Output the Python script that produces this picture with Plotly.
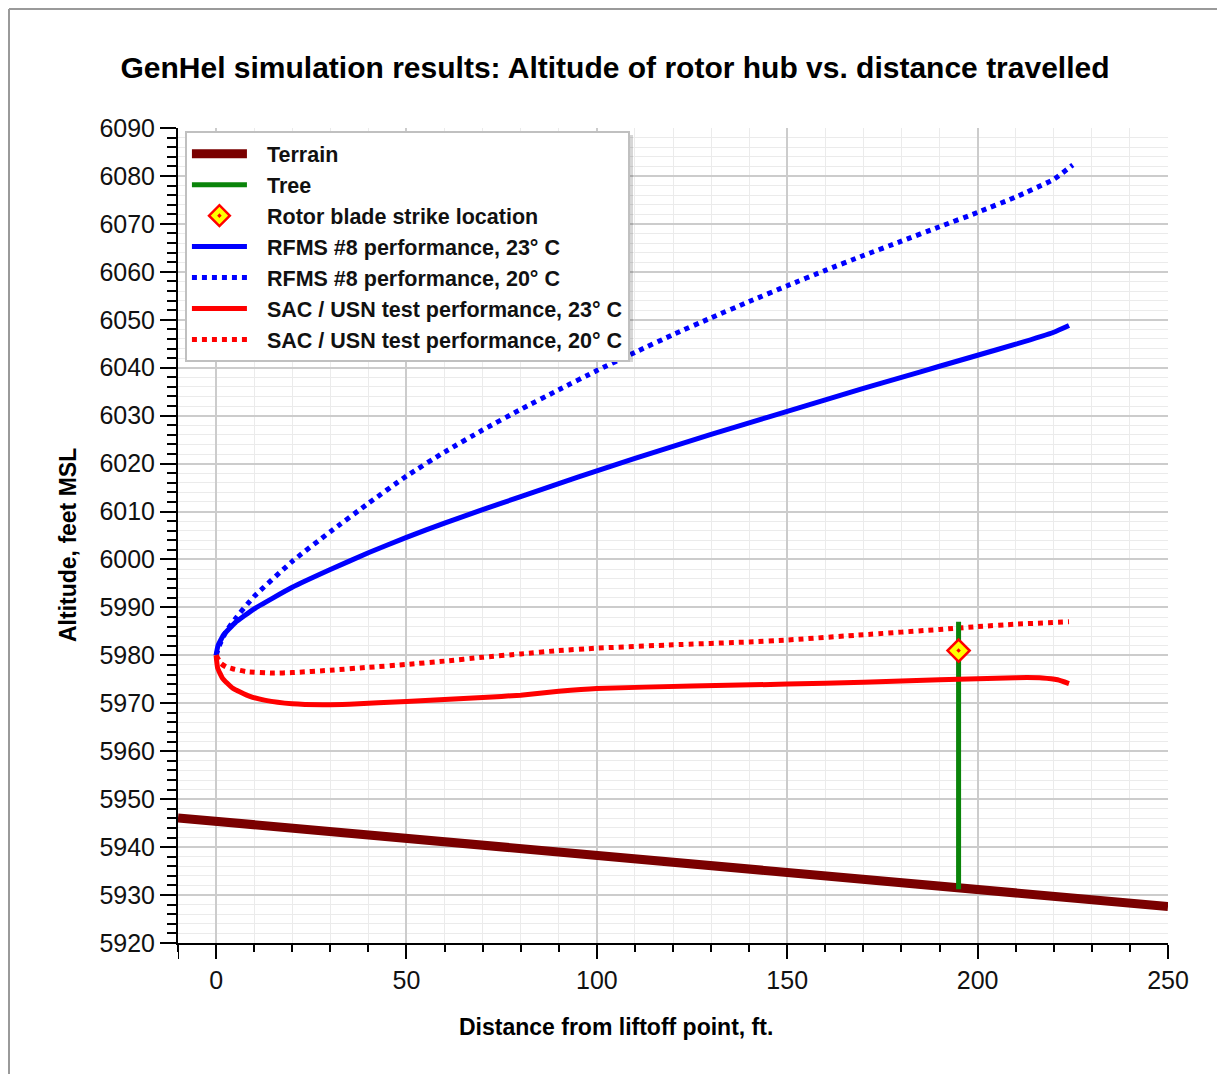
import plotly.graph_objects as go

# ---------------- data ----------------
terrain_x = [-10, 250]
terrain_y = [5946.1, 5927.6]

tree_x = [195, 195]
tree_y = [5931.2, 5987.0]

strike_x = [195]
strike_y = [5981.0]

rfms23_x = [0, 0.5, 2, 5, 10, 20, 30, 40, 50, 60, 70, 80, 90, 100, 110, 120,
            130, 140, 150, 160, 170, 180, 190, 200, 210, 220, 224]
rfms23_y = [5980, 5982, 5984.3, 5986.8, 5989.7, 5994.2, 5997.9, 6001.4, 6004.6,
            6007.6, 6010.4, 6013.1, 6015.8, 6018.5, 6021.1, 6023.6, 6026.1,
            6028.5, 6030.9, 6033.3, 6035.7, 6038.0, 6040.3, 6042.6, 6044.9,
            6047.4, 6048.8]

rfms20_x = [0, 1, 2.5, 5, 10, 20, 30, 40, 50, 60, 70, 80, 90, 100, 110, 120,
            130, 140, 150, 160, 170, 180, 190, 200, 210, 220, 225]
rfms20_y = [5980, 5982.3, 5984.8, 5987.6, 5992.3, 5999.6, 6005.8, 6011.7, 6017.4,
            6022.4, 6027.0, 6031.3, 6035.4, 6039.4, 6043.2, 6046.9, 6050.4,
            6053.8, 6057.1, 6060.3, 6063.4, 6066.4, 6069.4, 6072.4, 6075.6,
            6079.3, 6082.3]

sac23_x = [0, 0.4, 1.7, 4.3, 8.7, 13, 20, 28, 35, 50, 70, 80, 90, 100, 125,
           150, 170, 190, 200, 210, 217, 221, 224]
sac23_y = [5980, 5977.4, 5975.2, 5973.2, 5971.5, 5970.6, 5969.9, 5969.7, 5969.8,
           5970.4, 5971.2, 5971.7, 5972.5, 5973.1, 5973.6, 5974.0, 5974.4,
           5974.9, 5975.1, 5975.35, 5975.3, 5974.9, 5974.1]

sac20_x = [0, 1.3, 2.6, 4.3, 8, 15, 20, 30, 40, 50, 60, 70, 80, 90, 100, 120,
           140, 150, 170, 190, 200, 210, 224]
sac20_y = [5980, 5978.3, 5977.6, 5977.2, 5976.6, 5976.3, 5976.4, 5976.9, 5977.5,
           5978.1, 5978.8, 5979.6, 5980.3, 5981.0, 5981.5, 5982.2, 5982.8,
           5983.2, 5984.3, 5985.4, 5986.0, 5986.5, 5987.0]

names = ["Terrain", "Tree", "Rotor blade strike location",
         "RFMS #8 performance, 23° C", "RFMS #8 performance, 20° C",
         "SAC / USN test performance, 23° C", "SAC / USN test performance, 20° C"]

title_text = "GenHel simulation results: Altitude of rotor hub vs. distance travelled"
x_title = "Distance from liftoff point, ft."
y_title = "Altitude, feet MSL"

# ---------------- figure ----------------
FONT = "Liberation Sans, Arial, sans-serif"
SP = "\u2002\u2009"  # small gap between legend symbol and text
fig = go.Figure()

fig.add_trace(go.Scatter(x=terrain_x, y=terrain_y, mode="lines", name=SP + names[0],
                         line=dict(color="#7a0000", width=9), legendrank=1))
fig.add_trace(go.Scatter(x=rfms20_x, y=rfms20_y, mode="lines", name=SP + names[4],
                         line=dict(color="#0000ff", width=5, dash="dot",
                                   shape="spline", smoothing=0.4), legendrank=5))
fig.add_trace(go.Scatter(x=rfms23_x, y=rfms23_y, mode="lines", name=SP + names[3],
                         line=dict(color="#0000ff", width=5,
                                   shape="spline", smoothing=0.4), legendrank=4))
fig.add_trace(go.Scatter(x=sac20_x, y=sac20_y, mode="lines", name=SP + names[6],
                         line=dict(color="#ff0000", width=5, dash="dot",
                                   shape="spline", smoothing=0.4), legendrank=7))
fig.add_trace(go.Scatter(x=tree_x, y=tree_y, mode="lines", name=SP + names[1],
                         line=dict(color="#0a840a", width=5), legendrank=2))
fig.add_trace(go.Scatter(x=sac23_x, y=sac23_y, mode="lines", name=SP + names[5],
                         line=dict(color="#ff0000", width=5,
                                   shape="spline", smoothing=0.4), legendrank=6))
fig.add_trace(go.Scatter(x=strike_x, y=strike_y, mode="markers", name=SP + names[2],
                         marker=dict(symbol="diamond-dot", size=17, color="#ffff00",
                                     line=dict(color="#ff0000", width=2.5)),
                         legendrank=3))

axis_common = dict(
    showline=True, linecolor="black", linewidth=2,
    ticks="outside", tickcolor="black", tickwidth=2,
    showgrid=True, gridcolor="#cccccc", gridwidth=1.5,
    zeroline=False, mirror=False,
    tickfont=dict(family=FONT, size=25, color="#111111"),
)

fig.update_xaxes(range=[-10, 250], tick0=0, dtick=50, ticklen=14,
                 minor=dict(dtick=10, tick0=0, ticks="outside", ticklen=7,
                            tickcolor="black", tickwidth=2,
                            showgrid=True, gridcolor="#ebebeb", gridwidth=1),
                 **axis_common)
fig.update_yaxes(range=[5920, 6090], tick0=5920, dtick=10, ticklen=16,
                 minor=dict(dtick=2, tick0=5920, ticks="outside", ticklen=9,
                            tickcolor="black", tickwidth=2,
                            showgrid=True, gridcolor="#ebebeb", gridwidth=1),
                 **axis_common)

# the page body adds an 8px margin all round, so the figure is kept inside it
W, H = 1209, 1066
PX = 990   # plot area width in px
PY = 815   # plot area height in px
TITLE_FONT = dict(family=FONT, size=23, color="black", weight="bold")
fig.update_layout(
    width=W, height=H,
    margin=dict(l=170, r=49, t=120, b=131),
    paper_bgcolor="white", plot_bgcolor="white",
    title=dict(text=title_text, x=607 / W, xref="container", xanchor="center",
               y=1 - 59 / H, yref="container", yanchor="middle",
               font=dict(family=FONT, size=30, color="black", weight="bold")),
    showlegend=True,
    legend=dict(x=0.007, y=0.996, xanchor="left", yanchor="top",
                bgcolor="white", bordercolor="#c0c0c0", borderwidth=2,
                font=dict(family=FONT, size=21.5, color="#111111", weight="bold"),
                itemwidth=55, tracegroupgap=0, traceorder="normal"),
    annotations=[
        # axis titles (placed as in the reference, not centred on the plot area)
        dict(text=x_title, xref="paper", yref="paper",
             x=(616 - 178) / PX, y=-(1027 - 943) / PY,
             xanchor="center", yanchor="middle", showarrow=False, font=TITLE_FONT),
        dict(text=y_title, xref="paper", yref="paper",
             x=(68 - 178) / PX, y=(943 - 545) / PY, textangle=-90,
             xanchor="center", yanchor="middle", showarrow=False, font=TITLE_FONT),
    ],
    shapes=[
        # outer page frame (left and top edges)
        dict(type="line", xref="paper", yref="paper",
             x0=(9 - 178) / PX, x1=(9 - 178) / PX, y0=-0.3, y1=(943 - 9) / PY,
             line=dict(color="#9a9a9a", width=2), layer="below"),
        dict(type="line", xref="paper", yref="paper",
             x0=(9 - 178) / PX, x1=1.2, y0=(943 - 9) / PY, y1=(943 - 9) / PY,
             line=dict(color="#9a9a9a", width=2), layer="below"),
        # y axis line extension below the x axis
        dict(type="line", xref="x", yref="paper", x0=-10, x1=-10,
             y0=0, y1=-16 / PY, line=dict(color="black", width=2)),
        # legend drop shadow
        dict(type="rect", xref="paper", yref="paper",
             x0=(189 - 178) / PX, x1=(633 - 178) / PX,
             y0=(943 - 362) / PY, y1=(943 - 135) / PY,
             fillcolor="rgba(0,0,0,0.16)", line=dict(width=0), layer="above"),
    ],
)

fig.write_html("out.html")
